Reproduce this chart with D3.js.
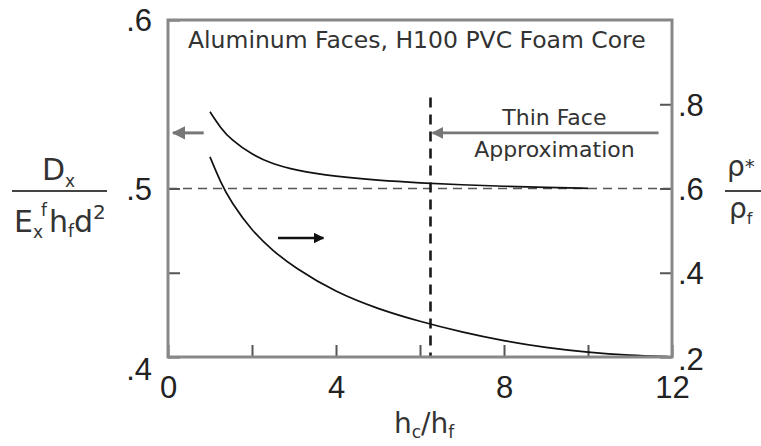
<!DOCTYPE html>
<html>
<head>
<meta charset="utf-8">
<script src="https://cdn.jsdelivr.net/npm/d3@7"></script>
<style>
  body { margin: 0; background: #fff; }
  .num { font-family: "Liberation Sans", Arial, sans-serif; font-size: 31px; fill: #222; }
  .lbl { font-family: "DejaVu Sans", sans-serif; fill: #333; }
</style>
</head>
<body>
<div id="chart"></div>
<script type="text/javascript">

      // h_c / h_f values along the curves
      var hRatioStiff = [1, 1.25, 1.5, 2, 2.5, 3, 4, 5, 6, 7, 8, 9, 10];
      // D_x / (E_x^f h_f d^2), left axis
      var stiffness = [0.5455, 0.536, 0.529, 0.520, 0.5145, 0.511, 0.507, 0.5048, 0.5033, 0.5022, 0.5013, 0.5006, 0.5001];

      var hRatioDens = [1, 1.25, 1.5, 2, 2.5, 3, 4, 5, 6, 7, 8, 9, 10, 11, 11.9];
      // rho* / rho_f, right axis
      var density = [0.675, 0.615, 0.568, 0.499, 0.452, 0.413, 0.353, 0.314, 0.284, 0.259, 0.238, 0.222, 0.211, 0.204, 0.201];

      var thinFaceX = 6.25;   // thin face approximation limit
      var refStiffness = 0.5; // asymptote

      var xTicks = [0, 2, 4, 6, 8, 10, 12];
      var xLabels = [0, 4, 8, 12];
      var leftTicks = [0.4, 0.45, 0.5, 0.6];
      var leftLabels = [0.4, 0.5, 0.6];
      var rightTicks = [0.2, 0.4, 0.6, 0.8];

      var w = 761, h = 446;
      var box = {left: 168, right: 672, top: 20, bottom: 357};

      var x = d3.scaleLinear().domain([0, 12]).range([box.left, box.right]);
      var yL = d3.scaleLinear().domain([0.4, 0.6]).range([box.bottom, box.top]);
      var yR = d3.scaleLinear().domain([0.2, 1.0]).range([box.bottom, box.top]);

      var fmt = function(d) { return d3.format(".1f")(d).replace(/^0/, ""); };

      var svg = d3.select("#chart")
                  .append("svg")
                  .attr("width", w)
                  .attr("height", h);

      var defs = svg.append("defs");
      [["headGrey", "#777"], ["headBlack", "#111"]].forEach(function(m) {
        defs.append("marker")
            .attr("id", m[0])
            .attr("viewBox", "0 0 10 10")
            .attr("refX", 9).attr("refY", 5)
            .attr("markerWidth", 4.5).attr("markerHeight", 4.5)
            .attr("markerUnits", "strokeWidth")
            .attr("orient", "auto")
          .append("path")
            .attr("d", "M0,0L10,5L0,10z")
            .attr("fill", m[1]);
      });

      // axes (ticks drawn inward)
      var gx = svg.append("g")
         .attr("transform", "translate(0," + box.bottom + ")")
         .call(d3.axisBottom(x).tickValues(xTicks).tickSize(-12).tickPadding(13)
               .tickFormat(function(d) { return xLabels.indexOf(d) >= 0 ? d : ""; }));

      var gl = svg.append("g")
         .attr("transform", "translate(" + box.left + ",0)")
         .call(d3.axisLeft(yL).tickValues(leftTicks).tickSize(-12).tickPadding(16)
               .tickFormat(function(d) { return leftLabels.indexOf(d) >= 0 ? fmt(d) : ""; }));

      var gr = svg.append("g")
         .attr("transform", "translate(" + box.right + ",0)")
         .call(d3.axisRight(yR).tickValues(rightTicks).tickSize(-12).tickPadding(6)
               .tickFormat(fmt));

      [gx, gl, gr].forEach(function(g) {
        g.select(".domain").remove();
        g.selectAll("line").attr("stroke", "#555").attr("stroke-width", 2);
        g.selectAll("text").attr("class", "num").attr("font-size", null).attr("font-family", null).attr("fill", null);
      });
      gx.selectAll("text").attr("dy", "0.9em");
      gl.selectAll(".tick text").attr("dy", function(d) { return d === 0.4 ? "0.72em" : "0.35em"; });
      gr.selectAll(".tick text").attr("dy", function(d) { return d === 0.2 ? "0.4em" : "0.35em"; });

      // reference lines
      svg.append("line")
         .attr("x1", x(0)).attr("x2", x(12))
         .attr("y1", yL(refStiffness)).attr("y2", yL(refStiffness))
         .attr("stroke", "#555").attr("stroke-width", 1.6)
         .attr("stroke-dasharray", "9,6");

      svg.append("line")
         .attr("x1", x(thinFaceX)).attr("x2", x(thinFaceX))
         .attr("y1", yL(0.554)).attr("y2", yL(0.4))
         .attr("stroke", "#1a1a1a").attr("stroke-width", 2.6)
         .attr("stroke-dasharray", "10,7");

      // curves
      var lineL = d3.line()
          .x(function(d, i) { return x(hRatioStiff[i]); })
          .y(function(d) { return yL(d); })
          .curve(d3.curveBasis);
      var lineR = d3.line()
          .x(function(d, i) { return x(hRatioDens[i]); })
          .y(function(d) { return yR(d); })
          .curve(d3.curveBasis);

      svg.append("path").datum(stiffness)
         .attr("d", lineL).attr("fill", "none")
         .attr("stroke", "#111").attr("stroke-width", 1.7);
      svg.append("path").datum(density)
         .attr("d", lineR).attr("fill", "none")
         .attr("stroke", "#111").attr("stroke-width", 1.7);

      // frame
      svg.append("rect")
         .attr("x", box.left).attr("y", box.top)
         .attr("width", box.right - box.left).attr("height", box.bottom - box.top)
         .attr("fill", "none").attr("stroke", "#888").attr("stroke-width", 3);

      // arrows
      svg.append("line")
         .attr("x1", x(0.85)).attr("x2", x(0.12))
         .attr("y1", yL(0.533)).attr("y2", yL(0.533))
         .attr("stroke", "#777").attr("stroke-width", 3)
         .attr("marker-end", "url(#headGrey)");
      svg.append("line")
         .attr("x1", x(2.62)).attr("x2", x(3.7))
         .attr("y1", yL(0.4706)).attr("y2", yL(0.4706))
         .attr("stroke", "#111").attr("stroke-width", 2.4)
         .attr("marker-end", "url(#headBlack)");
      svg.append("line")
         .attr("x1", x(11.68)).attr("x2", x(6.3))
         .attr("y1", yL(0.533)).attr("y2", yL(0.533))
         .attr("stroke", "#777").attr("stroke-width", 2.6)
         .attr("marker-end", "url(#headGrey)");

      // texts
      svg.append("text").attr("class", "lbl")
         .attr("x", 188).attr("y", 48).attr("font-size", 23.5)
         .text("Aluminum Faces, H100 PVC Foam Core");

      svg.append("text").attr("class", "lbl")
         .attr("x", x(9.2)).attr("y", 125).attr("font-size", 22)
         .attr("text-anchor", "middle").text("Thin Face");
      svg.append("text").attr("class", "lbl")
         .attr("x", x(9.2)).attr("y", 157).attr("font-size", 22)
         .attr("text-anchor", "middle").text("Approximation");

      // x axis title
      var xt = svg.append("text").attr("class", "lbl")
         .attr("x", 394).attr("y", 433).attr("font-size", 28);
      xt.append("tspan").text("h");
      xt.append("tspan").attr("font-size", 17).attr("dy", 5).text("c");
      xt.append("tspan").attr("dy", -5).text("/h");
      xt.append("tspan").attr("font-size", 17).attr("dy", 5).text("f");

      // left axis title
      var ln = svg.append("text").attr("class", "lbl")
         .attr("x", 42).attr("y", 180).attr("font-size", 30);
      ln.append("tspan").text("D");
      ln.append("tspan").attr("font-size", 17).attr("dy", 7).text("x");
      svg.append("line").attr("x1", 12).attr("x2", 107)
         .attr("y1", 191).attr("y2", 191)
         .attr("stroke", "#444").attr("stroke-width", 2);
      var ld = svg.append("text").attr("class", "lbl")
         .attr("x", 14).attr("y", 232).attr("font-size", 30);
      ld.append("tspan").text("E");
      ld.append("tspan").attr("font-size", 17).attr("dy", 6).text("x");
      ld.append("tspan").attr("font-size", 17).attr("dx", -2).attr("dy", -22).text("f");
      ld.append("tspan").attr("dx", 2).attr("dy", 16).text("h");
      ld.append("tspan").attr("font-size", 17).attr("dy", 5).text("f");
      ld.append("tspan").attr("dy", -5).text("d");
      ld.append("tspan").attr("font-size", 20).attr("dy", -13).text("2");

      // right axis title
      var rn = svg.append("text").attr("class", "lbl")
         .attr("x", 727).attr("y", 176).attr("font-size", 28);
      rn.append("tspan").text("ρ");
      rn.append("tspan").attr("font-size", 20).attr("dy", -3).text("*");
      svg.append("line").attr("x1", 725).attr("x2", 761)
         .attr("y1", 191).attr("y2", 191)
         .attr("stroke", "#444").attr("stroke-width", 2);
      var rd = svg.append("text").attr("class", "lbl")
         .attr("x", 729).attr("y", 218).attr("font-size", 28);
      rd.append("tspan").text("ρ");
      rd.append("tspan").attr("font-size", 16).attr("dy", 6).text("f");

</script>
</body>
</html>
